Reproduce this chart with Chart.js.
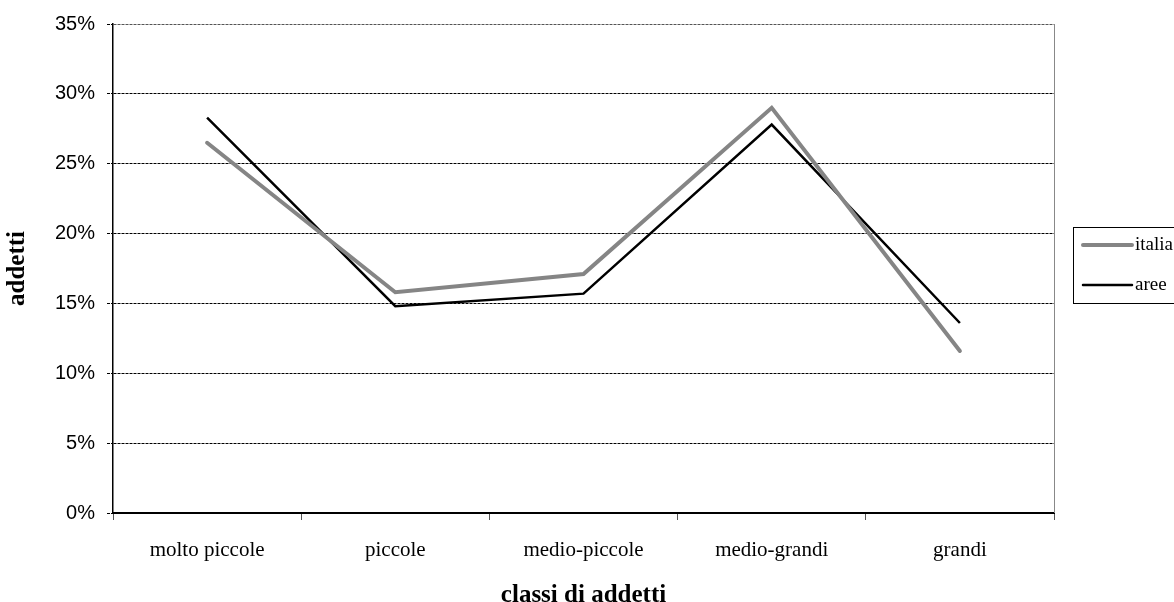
<!DOCTYPE html>
<html>
<head>
<meta charset="utf-8">
<script src="https://cdn.jsdelivr.net/npm/chart.js@4/dist/chart.umd.min.js"></script>
<style>
  html, body { margin: 0; padding: 0; background: #fff; }
  #wrap { width: 1174px; height: 602px; position: relative; }
</style>
</head>
<body>
<div id="wrap"><canvas id="c" width="1174" height="602"></canvas></div>
<script>
// Classi dimensionali e quote di addetti (%)
const categories = ['molto piccole', 'piccole', 'medio-piccole', 'medio-grandi', 'grandi'];
const italia = [26.5, 15.8, 17.1, 29.0, 11.6];
const aree = [28.3, 14.8, 15.7, 27.8, 13.6];
const yTicks = [0, 5, 10, 15, 20, 25, 30, 35];

const serif = '"Liberation Serif", "Times New Roman", serif';
const sans = '"Liberation Sans", Arial, sans-serif';

// Right edge of the plot frame
const frameRight = {
  id: 'frameRight',
  afterDraw(chart) {
    const { ctx, chartArea: a } = chart;
    ctx.save();
    ctx.strokeStyle = '#888';
    ctx.lineWidth = 1;
    ctx.beginPath();
    ctx.moveTo(Math.round(a.right) + 0.5, a.top);
    ctx.lineTo(Math.round(a.right) + 0.5, a.bottom);
    ctx.stroke();
    ctx.restore();
  }
};

// Boxed legend to the right of the plot
const boxLegend = {
  id: 'boxLegend',
  afterDraw(chart) {
    const { ctx } = chart;
    const x0 = 1073.5, y0 = 227.5, w = 120, h = 76;
    ctx.save();
    ctx.strokeStyle = '#000';
    ctx.lineWidth = 1;
    ctx.strokeRect(x0, y0, w, h);
    const rows = [245, 285];
    chart.data.datasets.forEach((ds, i) => {
      const y = rows[i];
      ctx.strokeStyle = ds.borderColor;
      ctx.lineWidth = ds.borderWidth;
      ctx.lineCap = 'round';
      ctx.beginPath();
      ctx.moveTo(1083, y);
      ctx.lineTo(1132, y);
      ctx.stroke();
      ctx.fillStyle = '#000';
      ctx.font = '19px ' + serif;
      ctx.textBaseline = 'middle';
      ctx.textAlign = 'left';
      ctx.fillText(ds.label, 1135, y);
    });
    ctx.restore();
  }
};

new Chart(document.getElementById('c'), {
  type: 'line',
  data: {
    labels: categories,
    datasets: [
      {
        label: 'italia',
        data: italia,
        borderColor: '#858585',
        borderWidth: 4,
        borderCapStyle: 'round',
        borderJoinStyle: 'miter',
        pointRadius: 0,
        tension: 0,
        fill: false
      },
      {
        label: 'aree',
        data: aree,
        borderColor: '#000000',
        borderWidth: 2.5,
        borderCapStyle: 'butt',
        borderJoinStyle: 'miter',
        pointRadius: 0,
        tension: 0,
        fill: false
      }
    ]
  },
  options: {
    responsive: false,
    animation: false,
    devicePixelRatio: 1,
    layout: { padding: { top: 23, right: 120, bottom: 0, left: 0 } },
    plugins: {
      legend: { display: false },
      tooltip: { enabled: false }
    },
    scales: {
      x: {
        offset: true,
        grid: {
          offset: true,
          drawOnChartArea: false,
          drawTicks: true,
          tickLength: 7,
          tickColor: '#555',
          tickWidth: 1
        },
        border: { display: true, color: '#000', width: 2 },
        ticks: {
          color: '#000',
          font: { family: serif, size: 21 },
          padding: 18,
          maxRotation: 0,
          autoSkip: false
        },
        title: {
          display: true,
          text: 'classi di addetti',
          color: '#000',
          font: { family: serif, size: 25, weight: 'bold', lineHeight: 0.5 },
          padding: { top: 0, bottom: 0 }
        },
        afterFit(s) { s.height = 89; }
      },
      y: {
        min: 0,
        max: 35,
        afterBuildTicks(s) { s.ticks = yTicks.map(v => ({ value: v })); },
        grid: {
          color: c => (c.tick && c.tick.value === 0 ? 'rgba(0,0,0,0)' : (c.tick && c.tick.value === 35 ? '#555' : '#000')),
          lineWidth: 1,
          drawTicks: true,
          tickLength: 6,
          tickColor: '#000',
          tickBorderDash: [3, 1]
        },
        border: { display: true, color: '#000', width: 1.5, dash: [3, 1] },
        ticks: {
          color: '#000',
          font: { family: sans, size: 20 },
          padding: 12,
          callback: v => v + '%'
        },
        title: {
          display: true,
          text: 'addetti',
          color: '#000',
          font: { family: serif, size: 25, weight: 'bold' },
          padding: { top: 3, bottom: 0 }
        },
        afterFit(s) { s.width = 113; }
      }
    }
  },
  plugins: [frameRight, boxLegend]
});
</script>
</body>
</html>
